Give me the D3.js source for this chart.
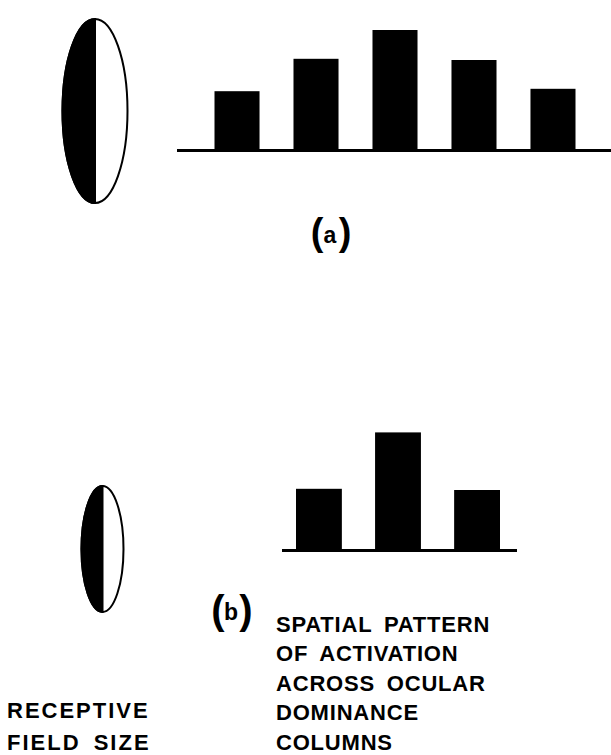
<!DOCTYPE html>
<html>
<head>
<meta charset="utf-8">
<script src="https://cdn.jsdelivr.net/npm/d3@7"></script>
<style>
  body { margin: 0; background: #fff; }
  text { font-family: "Liberation Sans", Arial, sans-serif; fill: #000; }
</style>
</head>
<body>
<script>
// activation of each ocular dominance column (relative units)
const columnsA = ["c1", "c2", "c3", "c4", "c5"];
const activationA = [0.49, 0.76, 1.0, 0.75, 0.51];
const columnsB = ["c1", "c2", "c3"];
const activationB = [0.51, 0.98, 0.50];

// labels
const panelLabels = ["a", "b"];
const patternLabel = ["SPATIAL PATTERN", "OF ACTIVATION", "ACROSS OCULAR", "DOMINANCE", "COLUMNS"];
const fieldLabel = ["RECEPTIVE", "FIELD SIZE"];

const width = 611, height = 755;

const svg = d3.select("body")
    .append("svg")
    .attr("width", width)
    .attr("height", height);

// bar height scale shared by both panels
const y = d3.scaleLinear()
    .domain([0, 1])
    .range([0, 120]);

// draw one row of columns with its baseline
function drawColumns(cats, vals, opts) {
  const x = d3.scaleBand()
    .domain(cats)
    .range(opts.range)
    .paddingInner(opts.pad)
    .paddingOuter(0);

  const g = svg.append("g");

  g.selectAll("rect")
    .data(vals)
    .join("rect")
    .attr("x", (d, i) => x(cats[i]))
    .attr("y", d => opts.base - y(d))
    .attr("width", x.bandwidth())
    .attr("height", d => y(d))
    .attr("fill", "#000");

  g.append("line")
    .attr("x1", opts.line[0])
    .attr("x2", opts.line[1])
    .attr("y1", opts.base + 0.5)
    .attr("y2", opts.base + 0.5)
    .attr("stroke", "#000")
    .attr("stroke-width", 3);
}

drawColumns(columnsA, activationA, {range: [214.5, 575.5], pad: 0.43, base: 150, line: [177, 611]});
drawColumns(columnsB, activationB, {range: [296, 500], pad: 0.42, base: 550, line: [282, 517]});

// receptive field: half black, half white ellipse
function drawField(cx, cy, rx, ry) {
  const g = svg.append("g");
  g.append("ellipse")
    .attr("cx", cx).attr("cy", cy)
    .attr("rx", rx).attr("ry", ry)
    .attr("fill", "#fff")
    .attr("stroke", "#000")
    .attr("stroke-width", 2);
  g.append("path")
    .attr("d", `M${cx},${cy - ry} A${rx},${ry} 0 0 0 ${cx},${cy + ry} Z`)
    .attr("fill", "#000")
    .attr("stroke", "#000")
    .attr("stroke-width", 2);
}

drawField(95, 111, 32.5, 92);
drawField(102.5, 549, 21, 63);

// panel labels "(a)" and "(b)"
function panelLabel(letter, cx, parenBase, letterBase, size) {
  const g = svg.append("g").attr("font-weight", "bold");
  g.append("text").attr("x", cx - 13).attr("y", parenBase)
    .attr("text-anchor", "middle").attr("font-size", size).text("(");
  g.append("text").attr("x", cx).attr("y", letterBase)
    .attr("text-anchor", "middle").attr("font-size", 23).text(letter);
  g.append("text").attr("x", cx + 15).attr("y", parenBase)
    .attr("text-anchor", "middle").attr("font-size", size).text(")");
}

panelLabel(panelLabels[0], 330, 245, 243, 38);
panelLabel(panelLabels[1], 231, 624, 620, 40);

// caption blocks
svg.append("text")
    .attr("x", 276)
    .attr("y", 632)
    .attr("font-size", 22)
    .attr("font-weight", "bold")
    .attr("letter-spacing", 0.8)
    .attr("word-spacing", 5)
    .selectAll("tspan")
    .data(patternLabel)
    .join("tspan")
    .attr("x", 276)
    .attr("dy", (d, i) => i === 0 ? 0 : 29.4)
    .text(d => d);

svg.append("text")
    .attr("x", 7)
    .attr("y", 718)
    .attr("font-size", 22)
    .attr("font-weight", "bold")
    .attr("letter-spacing", 2)
    .attr("word-spacing", 5)
    .selectAll("tspan")
    .data(fieldLabel)
    .join("tspan")
    .attr("x", 7)
    .attr("dy", (d, i) => i === 0 ? 0 : 31.5)
    .text(d => d);
</script>
</body>
</html>
